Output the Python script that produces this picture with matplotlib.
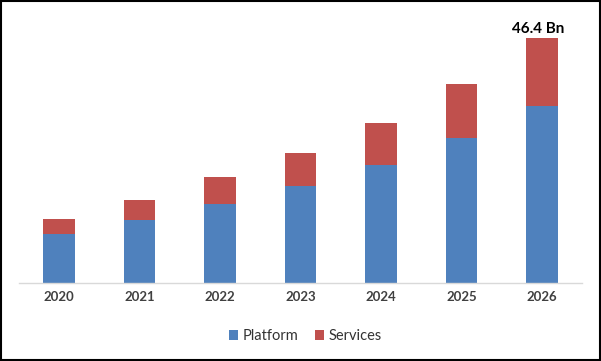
import matplotlib
matplotlib.use("Agg")
import matplotlib.pyplot as plt
from matplotlib.patches import Rectangle

years = ["2020", "2021", "2022", "2023", "2024", "2025", "2026"]
platform = [9.2, 12.0, 15.0, 18.3, 22.4, 27.5, 33.5]
services = [2.9, 3.7, 5.1, 6.4, 7.9, 10.1, 12.9]
top_label = "46.4 Bn"

blue = "#4F81BD"
red = "#C0504D"

plt.rcParams["font.family"] = ["Lato", "DejaVu Sans"]

fig = plt.figure(figsize=(6.01, 3.61), dpi=100)
ax = fig.add_axes([0.0312, 0.216, 0.9376, 0.7313])

x = range(len(years))
ax.bar(x, platform, width=0.395, color=blue, label="Platform")
ax.bar(x, services, width=0.395, bottom=platform, color=red, label="Services")

ax.set_xlim(-0.5, len(years) - 0.5)
ax.set_ylim(0, 50)
ax.set_xticks(list(x))
ax.set_xticklabels(years, fontsize=9.5, fontweight="bold", color="#404040")
ax.tick_params(axis="x", length=0, pad=6)
ax.set_yticks([])
for s in ["top", "right", "left"]:
    ax.spines[s].set_visible(False)
ax.spines["bottom"].set_color("#D9D9D9")
ax.spines["bottom"].set_linewidth(1)

total_last = platform[-1] + services[-1]
ax.text(len(years) - 1 - 0.05, total_last + 0.3, top_label, ha="center", va="bottom",
        fontsize=11, fontweight="bold", color="black")

fig.legend(loc="center", bbox_to_anchor=(0.508, 0.068), ncol=2, frameon=False,
           handlelength=0.65, handleheight=0.65, handletextpad=0.3, columnspacing=1.1,
           prop={"size": 10.5}, labelcolor="#333333")

fig.patches.append(Rectangle((0.001, 0.002), 0.997, 0.995, transform=fig.transFigure,
                             fill=False, edgecolor="black", linewidth=1.5))

fig.savefig("out.png", dpi=100)
